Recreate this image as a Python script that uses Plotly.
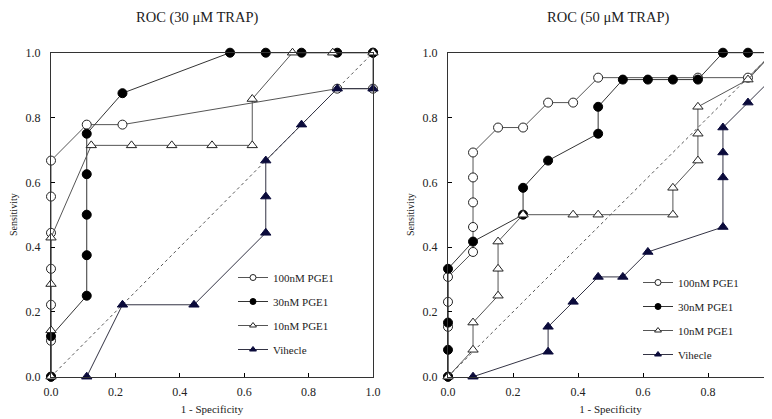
import plotly.graph_objects as go

# ---------------- data ----------------
series_names = ["100nM PGE1", "30nM PGE1", "10nM PGE1", "Vihecle"]
panel_titles = ["ROC (30 μM TRAP)", "ROC (50 μM TRAP)"]
tick_vals = [0.0, 0.2, 0.4, 0.6, 0.8, 1.0]
tick_text = ["0.0", "0.2", "0.4", "0.6", "0.8", "1.0"]

# Left panel: 30 uM TRAP
left_fpr_100 = [0, 0, 0, 0, 0, 0, 0, 0.111, 0.222, 0.889, 1.0, 1.0]
left_tpr_100 = [0, 0.111, 0.222, 0.333, 0.444, 0.556, 0.667, 0.778, 0.778, 0.889, 0.889, 1.0]
left_fpr_30 = [0, 0, 0.111, 0.111, 0.111, 0.111, 0.111, 0.222, 0.556, 0.667, 0.778, 0.889, 1.0]
left_tpr_30 = [0, 0.125, 0.25, 0.375, 0.5, 0.625, 0.75, 0.875, 1, 1, 1, 1, 1]
left_fpr_10 = [0, 0, 0, 0, 0.125, 0.25, 0.375, 0.5, 0.625, 0.625, 0.75, 0.875, 1.0]
left_tpr_10 = [0, 0.143, 0.286, 0.429, 0.714, 0.714, 0.714, 0.714, 0.714, 0.857, 1, 1, 1]
left_fpr_v = [0.111, 0.222, 0.444, 0.667, 0.667, 0.667, 0.778, 0.889, 1.0]
left_tpr_v = [0, 0.222, 0.222, 0.444, 0.556, 0.667, 0.778, 0.889, 0.889]

# Right panel: 50 uM TRAP
right_fpr_100 = [0, 0, 0, 0, 0.077, 0.077, 0.077, 0.077, 0.077, 0.154, 0.231, 0.308, 0.385, 0.462, 0.769, 0.923, 1.0]
right_tpr_100 = [0, 0.154, 0.231, 0.308, 0.385, 0.462, 0.538, 0.615, 0.692, 0.769, 0.769, 0.846, 0.846, 0.923, 0.923, 0.923, 1.0]
right_fpr_30 = [0, 0, 0, 0, 0.077, 0.231, 0.231, 0.308, 0.462, 0.462, 0.538, 0.615, 0.692, 0.769, 0.846, 0.923, 1.0]
right_tpr_30 = [0, 0.083, 0.167, 0.333, 0.417, 0.5, 0.583, 0.667, 0.75, 0.833, 0.917, 0.917, 0.917, 0.917, 1, 1, 1]
right_fpr_10 = [0, 0.077, 0.077, 0.154, 0.154, 0.154, 0.231, 0.385, 0.462, 0.692, 0.692, 0.769, 0.769, 0.769, 0.923, 1.0]
right_tpr_10 = [0, 0.083, 0.167, 0.25, 0.333, 0.417, 0.5, 0.5, 0.5, 0.5, 0.583, 0.667, 0.75, 0.833, 0.917, 1.0]
right_fpr_v = [0.077, 0.308, 0.308, 0.385, 0.462, 0.538, 0.615, 0.846, 0.846, 0.846, 0.846, 0.923, 1.0]
right_tpr_v = [0, 0.077, 0.154, 0.231, 0.308, 0.308, 0.385, 0.462, 0.615, 0.692, 0.769, 0.846, 0.923]

diag = [0, 1]

# ---------------- styles ----------------
FONT = "Liberation Serif"
TXT = "#222222"
NAVY = "#0b0b3b"
styles = [
    dict(symbol="circle", fill="white", line="#555555", mline="#222222"),
    dict(symbol="circle", fill="black", line="#333333", mline="black"),
    dict(symbol="triangle-up", fill="white", line="#555555", mline="#222222"),
    dict(symbol="triangle-up", fill=NAVY, line="#333344", mline=NAVY),
]

fig = go.Figure()

panels = [
    ("x", "y", "legend", [(left_fpr_100, left_tpr_100), (left_fpr_30, left_tpr_30),
                          (left_fpr_10, left_tpr_10), (left_fpr_v, left_tpr_v)]),
    ("x2", "y2", "legend2", [(right_fpr_100, right_tpr_100), (right_fpr_30, right_tpr_30),
                             (right_fpr_10, right_tpr_10), (right_fpr_v, right_tpr_v)]),
]

for xa, ya, lg, data in panels:
    fig.add_trace(go.Scatter(x=diag, y=diag, mode="lines", xaxis=xa, yaxis=ya,
                             line=dict(color="#555555", width=1, dash="dot"),
                             showlegend=False, hoverinfo="skip"))
    for (fx, ty), st, name in zip(data, styles, series_names):
        fig.add_trace(go.Scatter(
            x=fx, y=ty, mode="lines+markers", xaxis=xa, yaxis=ya, name=name,
            line=dict(color=st["line"], width=1),
            marker=dict(symbol=st["symbol"], size=9, color=st["fill"],
                        line=dict(color=st["mline"], width=1)),
            cliponaxis=False, showlegend=False))
    for i, (st, name) in enumerate(zip(styles, series_names)):
        fig.add_trace(go.Scatter(
            x=[None], y=[None], mode="lines+markers", xaxis=xa, yaxis=ya, name=name,
            legend=lg, legendgroup=f"{lg}{i}",
            line=dict(color=st["line"], width=1),
            marker=dict(symbol=st["symbol"], size=6, color=st["fill"],
                        line=dict(color=st["mline"], width=1)),
            showlegend=True))

W, H = 772, 419
OFF = 8  # page body margin: page pixel p corresponds to figure pixel p - OFF


def px_x(p):
    return (p - OFF) / W


def px_y(p):
    return 1 - (p - OFF) / H


ydom = [px_y(376.7), px_y(52.7)]

axis_common = dict(range=[0, 1], tickvals=tick_vals, ticktext=tick_text,
                   ticks="inside", ticklen=4, tickcolor="black",
                   showline=True, linecolor="#333333", linewidth=1, mirror=True,
                   showgrid=False, zeroline=False, automargin=False,
                   tickfont=dict(family=FONT, size=12, color=TXT))
xt = dict(title=dict(text="1 - Specificity", font=dict(family=FONT, size=11, color=TXT), standoff=7),
          ticklabelstandoff=4, **axis_common)
yt = dict(title=dict(text="Sensitivity", font=dict(family=FONT, size=10, color=TXT), standoff=6),
          ticklabelstandoff=7, **axis_common)

fig.update_layout(
    template="none",
    width=W, height=H,
    margin=dict(l=0, r=0, t=0, b=0, autoexpand=False),
    paper_bgcolor="white", plot_bgcolor="white",
    font=dict(family=FONT, color=TXT),
    xaxis=dict(domain=[px_x(51), px_x(373)], anchor="y", **xt),
    yaxis=dict(domain=ydom, anchor="x", **yt),
    xaxis2=dict(domain=[px_x(448), px_x(773)], anchor="y2", **xt),
    yaxis2=dict(domain=ydom, anchor="x2", **yt),
    legend=dict(x=px_x(233), y=px_y(263), xanchor="left", yanchor="top",
                font=dict(family=FONT, size=11, color=TXT),
                bgcolor="rgba(0,0,0,0)", borderwidth=0, itemwidth=30, tracegroupgap=5,
                itemclick=False, itemdoubleclick=False),
    legend2=dict(x=px_x(638), y=px_y(268), xanchor="left", yanchor="top",
                 font=dict(family=FONT, size=11, color=TXT),
                 bgcolor="rgba(0,0,0,0)", borderwidth=0, itemwidth=30, tracegroupgap=5,
                 itemclick=False, itemdoubleclick=False),
    annotations=[
        dict(text=panel_titles[0], x=px_x(197), y=px_y(17), xref="paper", yref="paper",
             xanchor="center", yanchor="middle",
             showarrow=False, font=dict(family=FONT, size=14.5, color=TXT)),
        dict(text=panel_titles[1], x=px_x(608), y=px_y(17), xref="paper", yref="paper",
             xanchor="center", yanchor="middle",
             showarrow=False, font=dict(family=FONT, size=14.5, color=TXT)),
    ],
)

fig.write_html("out.html")
